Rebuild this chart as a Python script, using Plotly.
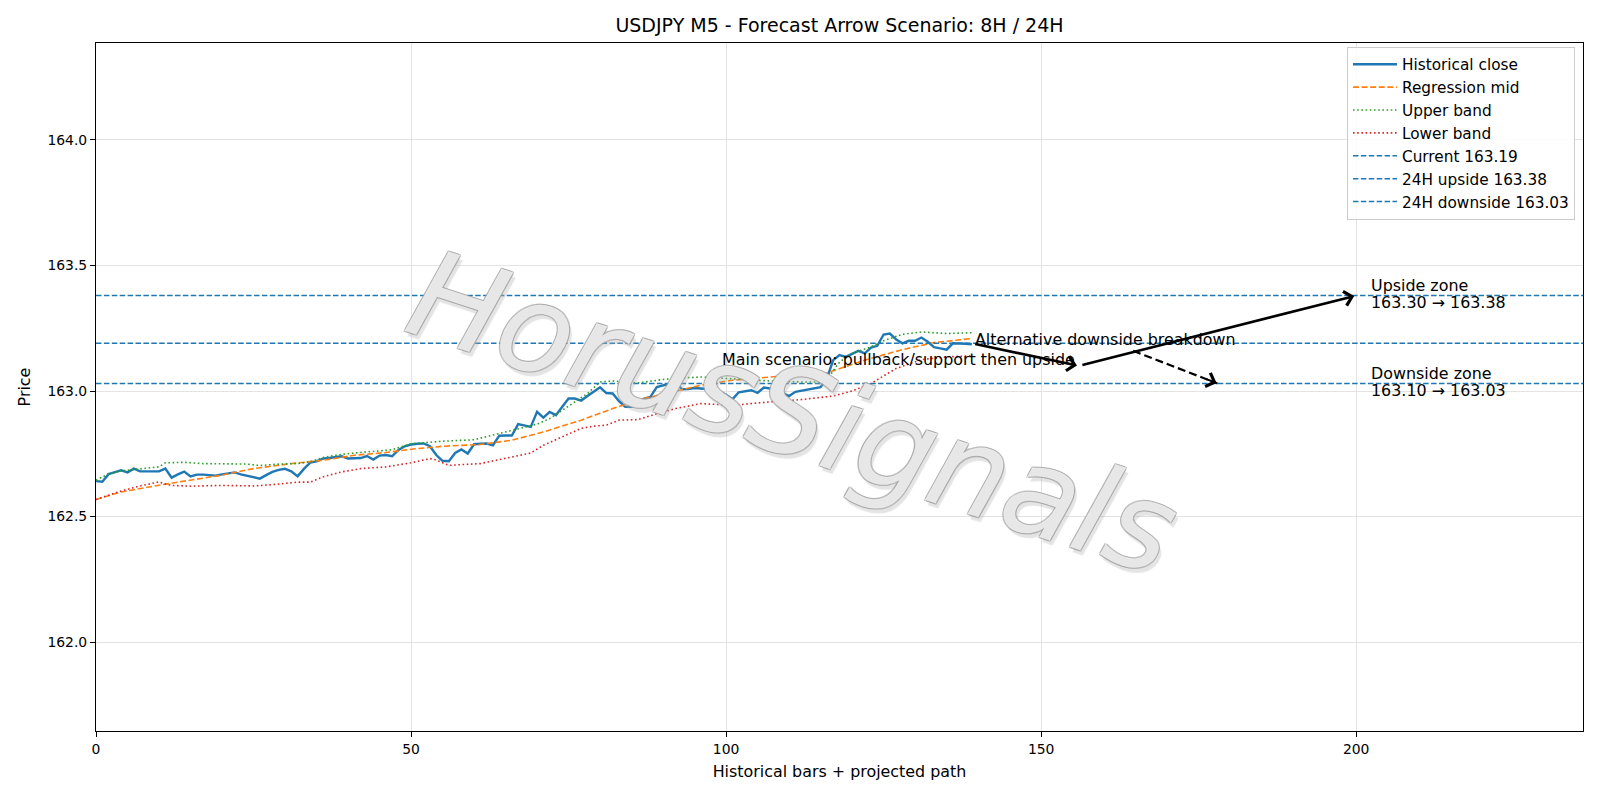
import plotly.graph_objects as go

# ---------------- data ----------------
close = [
    162.641, 162.639, 162.669, 162.678, 162.684, 162.676, 162.691, 162.680, 162.681, 162.680,
    162.680, 162.691, 162.655, 162.668, 162.679, 162.660, 162.667, 162.667, 162.664, 162.663,
    162.668, 162.672, 162.676, 162.668, 162.662, 162.658, 162.651, 162.665, 162.678, 162.686,
    162.690, 162.680, 162.660, 162.690, 162.715, 162.720, 162.731, 162.733, 162.736, 162.740,
    162.731, 162.732, 162.733, 162.741, 162.727, 162.743, 162.745, 162.740, 162.765, 162.780,
    162.787, 162.790, 162.791, 162.780, 162.745, 162.722, 162.720, 162.753, 162.767, 162.751,
    162.788, 162.790, 162.791, 162.784, 162.822, 162.823, 162.823, 162.868, 162.862, 162.857,
    162.917, 162.894, 162.917, 162.904, 162.937, 162.970, 162.970, 162.962, 162.980, 162.996,
    163.015, 162.992, 162.990, 162.960, 162.937, 162.937, 162.957, 162.970, 162.977, 163.016,
    163.023, 163.030, 163.036, 163.007, 163.008, 163.012, 163.010, 163.008, 163.000, 162.996,
    162.985, 162.967, 162.995, 163.000, 163.003, 162.993, 163.014, 163.010, 163.006, 162.992,
    162.980, 162.997, 163.002, 163.007, 163.010, 163.015, 163.050, 163.123, 163.143, 163.136,
    163.148, 163.160, 163.150, 163.173, 163.180, 163.225, 163.229, 163.205, 163.190, 163.200,
    163.200, 163.213, 163.196, 163.175, 163.170, 163.165, 163.190, 163.190, 163.188, 163.186,
]
bars = list(range(len(close)))

mid_x = [0, 4, 10, 15, 20, 25, 31, 36, 41, 46, 50, 55, 61, 66, 71, 77, 82, 87, 92, 96,
         101, 107, 112, 116, 118, 122, 128, 133, 139]
mid_y = [162.568, 162.598, 162.625, 162.645, 162.665, 162.691, 162.711, 162.724, 162.744,
         162.755, 162.768, 162.780, 162.787, 162.804, 162.837, 162.884, 162.930, 162.970,
         163.000, 163.023, 163.043, 163.056, 163.066, 163.072, 163.090, 163.123, 163.165,
         163.193, 163.209]

upper_x = [0, 2, 4, 7, 10, 11, 14, 17, 20, 24, 26, 29, 32, 34, 36, 39, 41, 44, 47, 50, 55,
           60, 65, 70, 72, 75, 77, 78, 80, 82, 86, 90, 93, 96, 100, 102, 107, 112, 115, 116,
           117, 118, 120, 123, 125, 128, 131, 135, 139]
upper_y = [162.645, 162.670, 162.682, 162.691, 162.698, 162.714, 162.716, 162.711, 162.709,
           162.709, 162.703, 162.709, 162.711, 162.718, 162.735, 162.748, 162.753, 162.761,
           162.766, 162.790, 162.800, 162.806, 162.837, 162.868, 162.890, 162.940, 162.970,
           162.990, 163.036, 163.040, 163.032, 163.046, 163.052, 163.056, 163.050, 163.047,
           163.040, 163.036, 163.036, 163.045, 163.080, 163.115, 163.150, 163.176, 163.200,
           163.226, 163.235, 163.229, 163.232]

lower_x = [0, 4, 7, 10, 11, 12, 15, 20, 25, 28, 32, 34, 36, 39, 42, 46, 50, 53, 54, 56, 61,
           66, 69, 71, 74, 77, 79, 81, 83, 86, 89, 92, 96, 101, 107, 112, 117, 120, 123, 127,
           131, 135, 139]
lower_y = [162.568, 162.602, 162.622, 162.638, 162.630, 162.624, 162.621, 162.624, 162.622,
           162.627, 162.637, 162.637, 162.658, 162.678, 162.691, 162.698, 162.714, 162.731,
           162.725, 162.704, 162.711, 162.737, 162.753, 162.784, 162.817, 162.851, 162.860,
           162.864, 162.884, 162.886, 162.910, 162.930, 162.950, 162.943, 162.957, 162.966,
           162.980, 163.000, 163.030, 163.090, 163.125, 163.136, 163.140]

current_price = 163.19
upside_24h = 163.38
downside_24h = 163.03
upside_zone = (163.30, 163.38)
downside_zone = (163.10, 163.03)

# scenario path (bar index, price)
main_path_x = [139, 156, 200]
main_path_y = [163.19, 163.10, 163.38]
alt_path_x = [164.6, 178]
alt_path_y = [163.16, 163.03]

x_range = [0, 236]
y_range = [161.646, 164.386]
x_ticks = [0, 50, 100, 150, 200]
y_ticks = [162.0, 162.5, 163.0, 163.5, 164.0]

title = "USDJPY M5 - Forecast Arrow Scenario: 8H / 24H"
x_label = "Historical bars + projected path"
y_label = "Price"
main_text = "Main scenario: pullback/support then upside"
alt_text = "Alternative downside breakdown"
watermark = "HorusSignals"

# ---------------- figure ----------------
FONT = "DejaVu Sans"
TXT = 15.9
BLUE, ORANGE, GREEN, RED = "#1f77b4", "#ff7f0e", "#2ca02c", "#d62728"

fig = go.Figure()
fig.add_trace(go.Scatter(x=bars, y=close, mode="lines", name="Historical close",
                         line=dict(color=BLUE, width=2.4), legendgroup="a"))
fig.add_trace(go.Scatter(x=mid_x, y=mid_y, mode="lines", name="Regression mid",
                         line=dict(color=ORANGE, width=1.6, dash="6px,2.6px"), legendgroup="b"))
fig.add_trace(go.Scatter(x=upper_x, y=upper_y, mode="lines", name="Upper band",
                         line=dict(color=GREEN, width=1.6, dash="1.6px,2.6px"), legendgroup="c"))
fig.add_trace(go.Scatter(x=lower_x, y=lower_y, mode="lines", name="Lower band",
                         line=dict(color=RED, width=1.6, dash="1.6px,2.6px"), legendgroup="d"))
for lvl, name, g in [(current_price, f"Current {current_price:.2f}", "e"),
                     (upside_24h, f"24H upside {upside_24h:.2f}", "f"),
                     (downside_24h, f"24H downside {downside_24h:.2f}", "g")]:
    fig.add_trace(go.Scatter(x=x_range, y=[lvl, lvl], mode="lines", name=name,
                             line=dict(color=BLUE, width=1.5, dash="5.5px,2.4px"), legendgroup=g))

# dashed alternative arrow shaft
fig.add_trace(go.Scatter(x=alt_path_x, y=alt_path_y, mode="lines", showlegend=False,
                         line=dict(color="black", width=2.2, dash="8px,4px"), hoverinfo="skip"))

annotations = []
# watermark
edge = "rgba(160,160,160,0.85)"
annotations.append(dict(text=watermark, xref="paper", yref="paper", x=0.469, y=0.462,
                        showarrow=False, textangle=18,
                        font=dict(family=FONT, size=122, style="italic", color="rgba(255,255,255,0.75)",
                                  shadow=f"-1px -1px 0 {edge}, 1px -1px 0 {edge}, -1px 1px 0 {edge}, 1px 1px 0 {edge}, 4px 4px 1px rgba(175,175,175,0.45)")))
# solid arrows
for i in range(len(main_path_x) - 1):
    annotations.append(dict(x=main_path_x[i + 1], y=main_path_y[i + 1], ax=main_path_x[i], ay=main_path_y[i],
                            xref="x", yref="y", axref="x", ayref="y", text="", showarrow=True,
                            arrowhead=4, arrowsize=1.1, arrowwidth=2.6, arrowcolor="black",
                            standoff=2, startstandoff=2))
# dashed arrow head
slope = (alt_path_y[0] - alt_path_y[-1]) / (alt_path_x[-1] - alt_path_x[0])
annotations.append(dict(x=alt_path_x[-1], y=alt_path_y[-1],
                        ax=alt_path_x[-1] - 2.0, ay=alt_path_y[-1] + slope * 2.0,
                        xref="x", yref="y", axref="x", ayref="y", text="", showarrow=True,
                        arrowhead=4, arrowsize=1.4, arrowwidth=2, arrowcolor="black", standoff=1))
# texts
annotations.append(dict(x=99, y=163.126, xref="x", yref="y", text=main_text, showarrow=False,
                        xanchor="left", yanchor="middle", font=dict(family=FONT, size=TXT, color="black")))
annotations.append(dict(x=139.2, y=163.207, xref="x", yref="y", text=alt_text, showarrow=False,
                        xanchor="left", yanchor="middle", font=dict(family=FONT, size=TXT, color="black")))
for lvl, head, zone in [(upside_zone[1], "Upside zone", upside_zone),
                        (downside_zone[1], "Downside zone", downside_zone)]:
    for line_text, shift in [(head, 9.8), (f"{zone[0]:.2f} → {zone[1]:.2f}", -6.6)]:
        annotations.append(dict(x=202, y=lvl, xref="x", yref="y", text=line_text, showarrow=False,
                                xanchor="left", yanchor="middle", yshift=shift,
                                font=dict(family=FONT, size=TXT, color="black")))

axis_common = dict(showline=True, mirror=True, linecolor="black", linewidth=1.1,
                   ticks="outside", ticklen=5, tickwidth=1.1, tickcolor="black",
                   showgrid=True, gridcolor="#e3e3e3", gridwidth=1, zeroline=False,
                   tickfont=dict(family=FONT, size=13.9, color="black"), automargin=False)

fig.update_layout(
    width=1600, height=800,
    margin=dict(l=96, r=17, t=43, b=69),
    paper_bgcolor="white", plot_bgcolor="white",
    font=dict(family=FONT, size=TXT, color="black"),
    title=dict(text=title, x=0.5, xref="paper", y=0.968, yref="container", yanchor="middle",
               xanchor="center", font=dict(family=FONT, size=19, color="black")),
    xaxis=dict(range=x_range, tickvals=x_ticks, title=dict(text=x_label, standoff=10,
               font=dict(family=FONT, size=TXT)), **axis_common),
    yaxis=dict(range=y_range, tickvals=y_ticks, tickformat=".1f", title=dict(text=y_label, standoff=12,
               font=dict(family=FONT, size=TXT)), **axis_common),
    legend=dict(x=0.9946, y=0.9945, xanchor="right", yanchor="top", bgcolor="rgba(255,255,255,0.85)",
                bordercolor="#cccccc", borderwidth=1, font=dict(family=FONT, size=15.3),
                traceorder="grouped", tracegroupgap=0, itemwidth=44),
    annotations=annotations,
    showlegend=True,
)

fig.write_html("out.html")
